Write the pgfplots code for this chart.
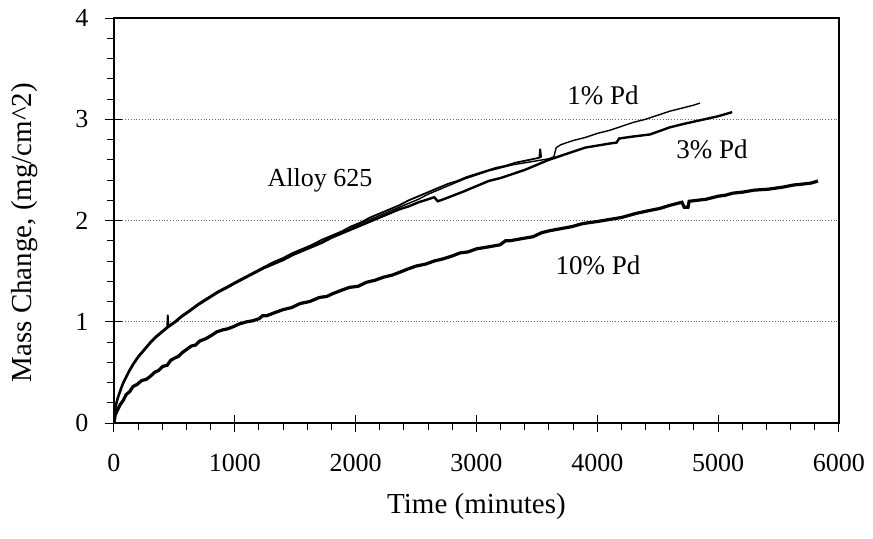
\documentclass[border=0pt]{standalone}
\usepackage{fontspec}
\setmainfont{Liberation Serif}
\usepackage{pgfplots}
\pgfplotsset{compat=1.18}
\begin{document}
\begin{tikzpicture}[font=\fontsize{13}{15}\selectfont]
\path[use as bounding box] (-57pt,-57.5pt) rectangle (379.5pt,211.5pt);
\begin{axis}[
  scale only axis, width=362.5pt, height=202.5pt,
  xmin=0, xmax=6000, ymin=0, ymax=4,
  xtick={0,1000,...,6000}, ytick={0,1,2,3,4},
  minor x tick num=4, minor y tick num=4,
  tick pos=left, tick align=outside,
  major tick length=4.25pt, minor tick length=3.5pt,
  every tick/.style={black, line width=0.5pt},
  extra x ticks={1000,2000,3000,4000,5000},
  extra x tick labels={},
  extra x tick style={tick align=inside, major tick length=4.25pt, grid=none},
  extra y ticks={1,2,3},
  extra y tick labels={},
  extra y tick style={tick align=inside, major tick length=4.25pt, grid=none},
  ymajorgrids, major grid style={densely dotted, black!60, line width=0.5pt},
  axis line style={black, line width=1pt},
  /pgf/number format/assume math mode=true,
  /pgf/number format/1000 sep={},
  tick label style={font=\fontsize{13}{15}\selectfont},
  label style={font=\fontsize{14.5}{17}\selectfont},
  xticklabel style={yshift=-8pt},
  yticklabel style={xshift=-5pt},
  xlabel={Time (minutes)}, ylabel={Mass Change, (mg/cm\textasciicircum 2)},
  xlabel style={at={(axis description cs:0.5,-0.205)}, anchor=center},
  ylabel style={at={(axis description cs:-0.1228,0.47)}, anchor=center, rotate=0},
]
% Alloy 625
\addplot[black, line width=0.9pt] coordinates {
(0,0) (5,0.10) (15,0.18) (30,0.25) (50,0.32) (75,0.40) (100,0.46) (130,0.53) (160,0.59) (200,0.66) (250,0.73) (300,0.80) (350,0.86) (400,0.91) (440,0.95) (445,1.07) (450,0.96) (500,1.00) (560,1.06) (620,1.11) (700,1.18) (780,1.24) (860,1.30) (940,1.35) (1000,1.39) (1080,1.44) (1160,1.49) (1240,1.54) (1320,1.59) (1400,1.63) (1480,1.68) (1560,1.72) (1640,1.76) (1720,1.81) (1800,1.85) (1880,1.89) (1960,1.94) (2040,1.98) (2120,2.03) (2200,2.07) (2280,2.11) (2360,2.15) (2440,2.20) (2520,2.24) (2600,2.28) (2680,2.32) (2760,2.36) (2840,2.39) (2920,2.43) (3000,2.46) (3080,2.49) (3160,2.52) (3240,2.54) (3320,2.57) (3400,2.59) (3480,2.61) (3520,2.62) (3527,2.71) (3535,2.62)
};
% 1% Pd
\addplot[black, line width=0.7pt] coordinates {
(0,0) (5,0.09) (15,0.17) (30,0.24) (50,0.31) (75,0.39) (100,0.45) (130,0.52) (160,0.58) (200,0.65) (250,0.72) (300,0.79) (350,0.85) (400,0.90) (450,0.95) (500,0.99) (560,1.05) (620,1.10) (700,1.17) (780,1.23) (860,1.29) (940,1.34) (1000,1.38) (1080,1.43) (1160,1.48) (1240,1.53) (1320,1.57) (1400,1.62) (1480,1.66) (1560,1.71) (1640,1.75) (1720,1.79) (1800,1.84) (1880,1.88) (1960,1.92) (2040,1.97) (2120,2.01) (2200,2.05) (2280,2.09) (2360,2.13) (2440,2.17) (2520,2.21) (2600,2.26) (2700,2.31) (2800,2.36) (2900,2.41) (3000,2.45) (3100,2.49) (3200,2.52) (3300,2.55) (3400,2.57) (3500,2.59) (3600,2.61) (3640,2.63) (3660,2.72) (3700,2.75) (3800,2.79) (3900,2.82) (4000,2.86) (4100,2.89) (4200,2.93) (4300,2.97) (4400,3.00) (4500,3.04) (4600,3.08) (4700,3.11) (4800,3.14) (4850,3.16)
};
% 3% Pd
\addplot[black, line width=1.2pt] coordinates {
(0,0) (5,0.10) (15,0.17) (30,0.24) (50,0.31) (75,0.39) (100,0.45) (130,0.52) (160,0.58) (200,0.65) (250,0.72) (300,0.79) (350,0.85) (400,0.90) (450,0.95) (500,0.99) (560,1.05) (620,1.10) (700,1.17) (780,1.23) (860,1.29) (940,1.34) (1000,1.38) (1080,1.43) (1160,1.48) (1240,1.53) (1320,1.57) (1400,1.61) (1480,1.66) (1560,1.70) (1640,1.74) (1720,1.78) (1800,1.83) (1880,1.87) (1960,1.91) (2040,1.95) (2120,1.99) (2200,2.03) (2280,2.07) (2360,2.11) (2440,2.14) (2520,2.18) (2600,2.21) (2650,2.23) (2680,2.19) (2750,2.22) (2900,2.29) (3000,2.34) (3100,2.39) (3200,2.42) (3300,2.46) (3400,2.50) (3500,2.55) (3600,2.60) (3700,2.64) (3800,2.68) (3900,2.72) (4000,2.74) (4100,2.76) (4160,2.77) (4180,2.81) (4300,2.83) (4436,2.85) (4600,2.92) (4700,2.95) (4850,2.99) (5000,3.03) (5115,3.07)
};
% 10% Pd
\addplot[black, line width=1.6pt] coordinates {
(0,0) (10,0.08) (30,0.13) (50,0.18) (75,0.22) (100,0.28) (130,0.31) (157,0.36) (190,0.38) (230,0.42) (265,0.43) (300,0.46) (335,0.50) (370,0.52) (405,0.56) (440,0.57) (470,0.62) (500,0.64) (535,0.66) (570,0.70) (605,0.73) (640,0.76) (675,0.77) (710,0.81) (755,0.83) (800,0.86) (850,0.90) (900,0.92) (940,0.93) (985,0.95) (1040,0.98) (1100,1.00) (1150,1.01) (1200,1.03) (1230,1.06) (1265,1.06) (1330,1.09) (1400,1.12) (1470,1.14) (1540,1.18) (1620,1.20) (1700,1.24) (1760,1.25) (1815,1.28) (1880,1.31) (1950,1.34) (2020,1.35) (2090,1.39) (2160,1.41) (2230,1.44) (2300,1.46) (2367,1.49) (2430,1.52) (2500,1.55) (2580,1.57) (2650,1.60) (2720,1.62) (2800,1.65) (2864,1.68) (2930,1.69) (3000,1.72) (3100,1.74) (3195,1.76) (3240,1.80) (3277,1.80) (3370,1.82) (3468,1.84) (3540,1.88) (3608,1.90) (3700,1.92) (3790,1.94) (3880,1.97) (4000,1.99) (4100,2.01) (4200,2.03) (4320,2.07) (4436,2.10) (4520,2.12) (4600,2.15) (4700,2.18) (4720,2.13) (4750,2.13) (4760,2.19) (4830,2.20) (4900,2.21) (5000,2.24) (5060,2.25) (5120,2.27) (5200,2.28) (5300,2.30) (5420,2.31) (5537,2.33) (5620,2.35) (5700,2.36) (5770,2.37) (5826,2.39)
};
\node[font=\fontsize{13}{15}\selectfont] at (axis cs:1705,2.40) {Alloy 625};
\node[font=\fontsize{13.5}{15}\selectfont] at (axis cs:4047,3.24) {1\% Pd};
\node[font=\fontsize{13.5}{15}\selectfont] at (axis cs:4950,2.70) {3\% Pd};
\node[font=\fontsize{13.5}{15}\selectfont] at (axis cs:4005,1.56) {10\% Pd};
\end{axis}
\end{tikzpicture}
\end{document}
